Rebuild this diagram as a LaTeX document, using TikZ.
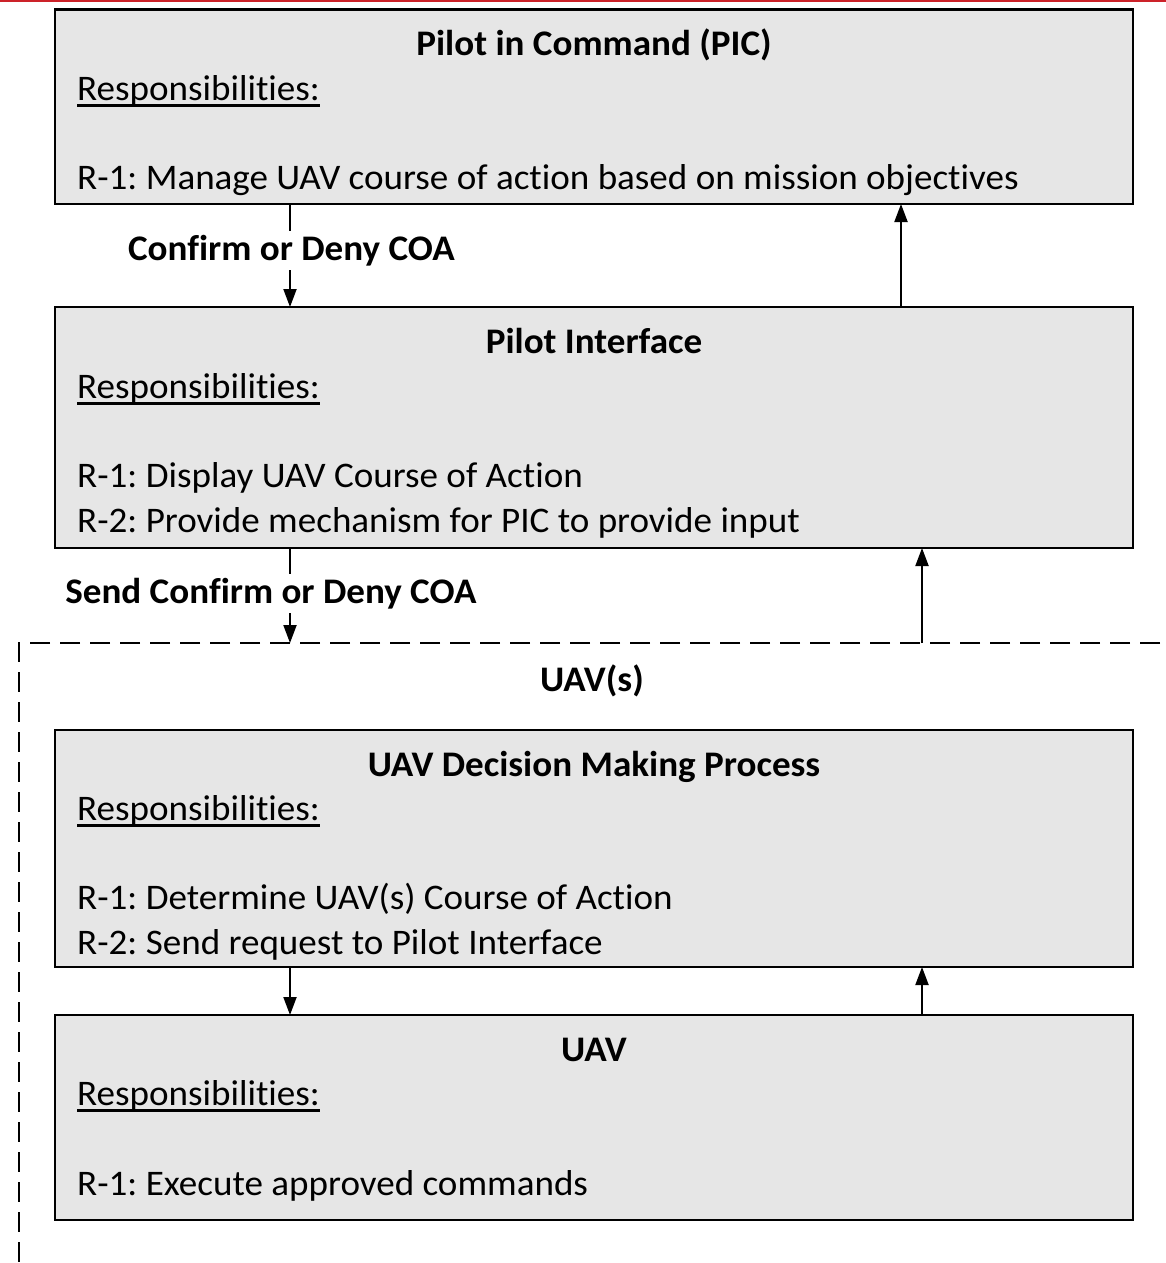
\documentclass[tikz,border=0pt]{standalone}
\usepackage{fontspec}
\setmainfont[Ligatures={NoCommon},FakeStretch=1.03]{Carlito}
\usetikzlibrary{arrows.meta}
\definecolor{boxgray}{RGB}{230,230,230}
\definecolor{topred}{RGB}{204,34,41}
\frenchspacing
% heavy underline used for the "Responsibilities:" headings
\newcommand\ulined[1]{\setbox0\hbox{#1}\rlap{\rule[-6.5pt]{\wd0}{2.4pt}}\box0}
\begin{document}
\begin{tikzpicture}[x=1pt,y=-1pt,
  blk/.style={draw=black,line width=2.6pt,fill=boxgray,rectangle,anchor=north west,
    minimum width=1078pt,inner sep=0pt,outer sep=0pt},
  ttl/.style={font=\fontsize{36}{43}\selectfont\bfseries,anchor=base,inner sep=0pt},
  txt/.style={font=\fontsize{36}{43}\selectfont,anchor=base west,inner sep=0pt},
  lbl/.style={font=\fontsize{36}{43}\selectfont\bfseries,fill=white,anchor=base,inner sep=4pt},
  flow/.style={line width=2pt,-{Triangle[length=18pt,width=13pt]}},
  group/.style={draw=black,line width=2pt,dash pattern=on 20pt off 10pt}
]
\useasboundingbox (0,0) rectangle (1166,1263);
\clip (0,0) rectangle (1166,1263);
\fill[topred] (0,0) rectangle (1166,2.5);

% dashed UAV(s) group, running past the right and bottom edges
\draw[group] (1190,643) -- (19,643) -- (19,1290);
\node[ttl] (grp) at (592,691) {UAV(s)};

% boxes
\node[blk,minimum height=194.5pt] (pic) at (55,9.5) {};
\node[blk,minimum height=241pt] (pif) at (55,307) {};
\node[blk,minimum height=237pt] (dmp) at (55,730) {};
\node[blk,minimum height=205pt] (uav) at (55,1015) {};

% Pilot in Command
\node[ttl] (picT) at (594,55.5) {Pilot in Command (PIC)};
\node[txt] (picR) at (77,100) {\ulined{Responsibilities:}};
\node[txt] (pic1) at (77,189.5) {R-1: Manage UAV course of action based on mission objectives};

% Pilot Interface
\node[ttl] (pifT) at (594,353) {Pilot Interface};
\node[txt] (pifR) at (77,398) {\ulined{Responsibilities:}};
\node[txt] (pif1) at (77,487) {R-1: Display UAV Course of Action};
\node[txt] (pif2) at (77,532) {R-2: Provide mechanism for PIC to provide input};

% UAV Decision Making Process
\node[ttl] (dmpT) at (594,776) {UAV Decision Making Process};
\node[txt] (dmpR) at (77,820) {\ulined{Responsibilities:}};
\node[txt] (dmp1) at (77,909) {R-1: Determine UAV(s) Course of Action};
\node[txt] (dmp2) at (77,954) {R-2: Send request to Pilot Interface};

% UAV
\node[ttl] (uavT) at (594,1061) {UAV};
\node[txt] (uavR) at (77,1105) {\ulined{Responsibilities:}};
\node[txt] (uav1) at (77,1195) {R-1: Execute approved commands};

% connectors
\coordinate (grpTopL) at (290,643);
\coordinate (grpTopR) at (922,643);
\draw[flow] ([xshift=235pt]pic.south west) -- ([xshift=235pt]pif.north west);
\draw[flow] ([xshift=846pt]pif.north west) -- ([xshift=846pt]pic.south west);
\draw[flow] ([xshift=235pt]pif.south west) -- (grpTopL);
\draw[flow] (grpTopR) -- ([xshift=867pt]pif.south west);
\draw[flow] ([xshift=235pt]dmp.south west) -- ([xshift=235pt]uav.north west);
\draw[flow] ([xshift=867pt]uav.north west) -- ([xshift=867pt]dmp.south west);

% connector labels
\node[lbl] (l1) at (291.5,260) {Confirm or Deny COA};
\node[lbl] (l2) at (271,603) {Send Confirm or Deny COA};
\end{tikzpicture}
\end{document}
